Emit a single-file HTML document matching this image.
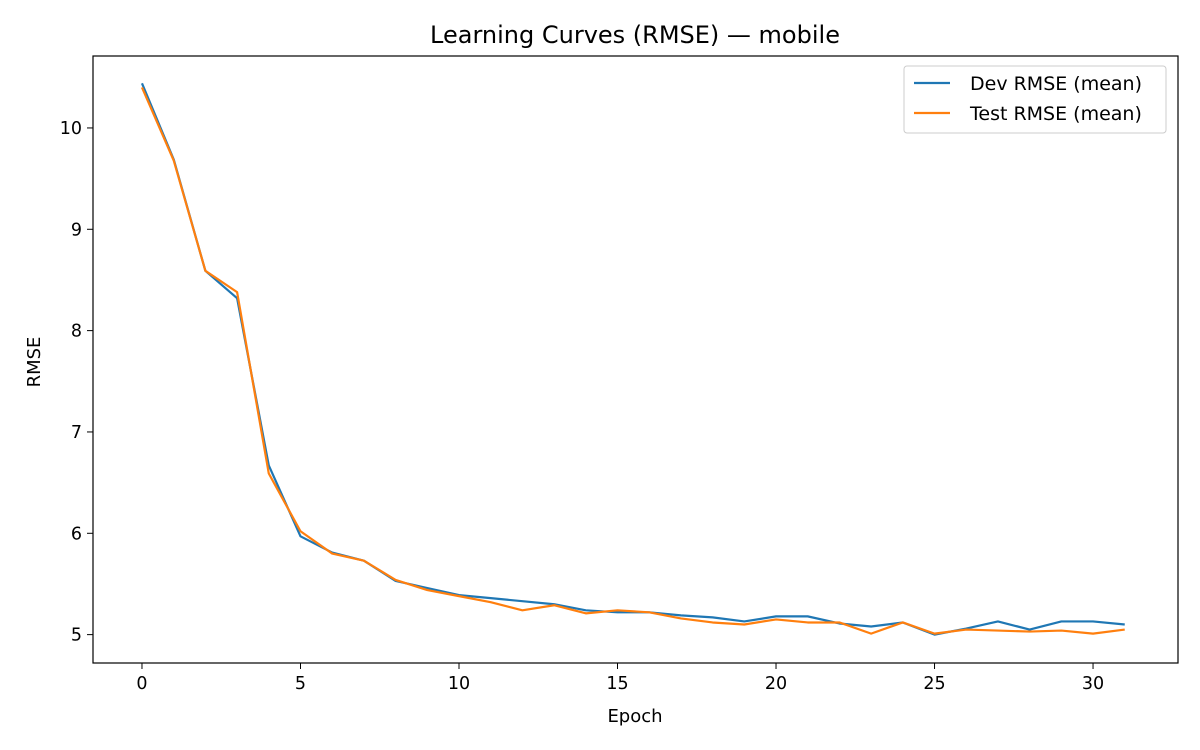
<!DOCTYPE html>
<html><head><meta charset="utf-8"><style>
body{margin:0;background:#fff;}
svg{display:block;font-family:"DejaVu Sans","Liberation Sans",sans-serif;}
</style></head><body>
<svg id="chart" width="1200" height="750">
<rect width="1200" height="750" fill="#fff"/>
<text x="635" y="43" font-size="24" text-anchor="middle">Learning Curves (RMSE) — mobile</text>
<g id="grid"></g>
<g id="series"></g>
<rect x="93" y="56" width="1085" height="607" fill="none" stroke="#000" stroke-width="1.2"/>
<text x="635" y="722" font-size="18" text-anchor="middle">Epoch</text>
<text x="40" y="362" font-size="18" text-anchor="middle" transform="rotate(-90 40 362)">RMSE</text>
<g>
<rect x="904" y="66" width="262" height="67" rx="3" fill="#fff" stroke="#ccc" stroke-width="1"/>
<line x1="914" y1="83" x2="950" y2="83" stroke="#1f77b4" stroke-width="2.2"/>
<text x="970" y="90" font-size="19">Dev RMSE (mean)</text>
<line x1="914" y1="113" x2="950" y2="113" stroke="#ff7f0e" stroke-width="2.2"/>
<text x="970" y="120" font-size="19">Test RMSE (mean)</text>
</g>
</svg>
<script>
const epochs = [0,1,2,3,4,5,6,7,8,9,10,11,12,13,14,15,16,17,18,19,20,21,22,23,24,25,26,27,28,29,30,31];
const devRmse = [10.44,9.69,8.59,8.32,6.67,5.97,5.81,5.73,5.53,5.46,5.39,5.36,5.33,5.30,5.24,5.22,5.22,5.19,5.17,5.13,5.18,5.18,5.11,5.08,5.12,5.00,5.06,5.13,5.05,5.13,5.13,5.10];
const testRmse = [10.40,9.68,8.59,8.38,6.59,6.02,5.80,5.73,5.54,5.44,5.38,5.32,5.24,5.29,5.21,5.24,5.22,5.16,5.12,5.10,5.15,5.12,5.12,5.01,5.12,5.01,5.05,5.04,5.03,5.04,5.01,5.05];
const xTicks = [0,5,10,15,20,25,30];
const yTicks = [5,6,7,8,9,10];
const X0=93,X1=1178,Y0=56,Y1=663;
const xMin=-1.545,xMax=32.68,yMin=4.72,yMax=10.71;
function sx(v){return X0+(v-xMin)/(xMax-xMin)*(X1-X0);}
function sy(v){return Y1-(v-yMin)/(yMax-yMin)*(Y1-Y0);}
const NS="http://www.w3.org/2000/svg";
const grid=document.getElementById('grid');
xTicks.forEach(t=>{
  const l=document.createElementNS(NS,'line');
  l.setAttribute('x1',sx(t));l.setAttribute('x2',sx(t));l.setAttribute('y1',Y1);l.setAttribute('y2',Y1+6);
  l.setAttribute('stroke','#000');
  
  
  grid.appendChild(l);
  const tx=document.createElementNS(NS,'text');
  tx.setAttribute('x',sx(t));tx.setAttribute('y',Y1+26);tx.setAttribute('font-size','17.5');tx.setAttribute('text-anchor','middle');
  tx.textContent=t;
  
  
  grid.appendChild(tx);
});
yTicks.forEach(t=>{
  const l=document.createElementNS(NS,'line');
  l.setAttribute('x1',X0-6);l.setAttribute('x2',X0);l.setAttribute('y1',sy(t));l.setAttribute('y2',sy(t));
  l.setAttribute('stroke','#000');
  
  
  grid.appendChild(l);
  const tx=document.createElementNS(NS,'text');
  tx.setAttribute('x',X0-11);tx.setAttribute('y',sy(t)+6);tx.setAttribute('font-size','17.5');tx.setAttribute('text-anchor','end');
  tx.textContent=t;
  
  
  grid.appendChild(tx);
});
const series=document.getElementById('series');
function drawLine(vals,color,name){
  const p=document.createElementNS(NS,'polyline');
  p.setAttribute('points',vals.map((v,i)=>sx(epochs[i])+','+sy(v)).join(' '));
  p.setAttribute('fill','none');p.setAttribute('stroke',color);p.setAttribute('stroke-width','2.2');
  p.setAttribute('stroke-linejoin','round');
  
  
  series.appendChild(p);
}
drawLine(devRmse,'#1f77b4','dev-rmse-line');
drawLine(testRmse,'#ff7f0e','test-rmse-line');
</script>
</body></html>
